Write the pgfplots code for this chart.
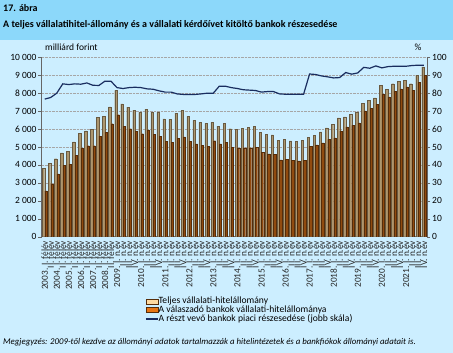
\documentclass[border=0pt]{standalone}
\usepackage{fontspec}
\setmainfont{Carlito}
\usepackage{pgfplots}
\pgfplotsset{compat=1.18}
\usepackage{pgfplotstable}

\definecolor{bandblue}{RGB}{140,216,250}
\definecolor{bgblue}{RGB}{204,238,255}
\definecolor{lightbar}{RGB}{172,150,110}
\definecolor{lightbarE}{RGB}{105,90,65}
\definecolor{darkbar}{RGB}{145,75,15}
\definecolor{darkbarE}{RGB}{85,45,10}
\definecolor{legpeach}{RGB}{255,218,160}
\definecolor{legorange}{RGB}{232,118,20}
\definecolor{navy}{RGB}{25,45,95}

\pgfplotstableread{
k light dark share
1 3800 2550 76.7
2 4100 2950 77.6
3 4350 3500 80.0
4 4670 3980 85.2
5 4760 4050 84.8
6 5280 4520 85.2
7 5780 4930 85.0
8 5900 5070 85.7
9 6000 5070 84.4
10 6650 5600 84.3
11 6700 5820 86.7
12 7240 6300 86.7
13 8150 6800 83.1
14 7400 6150 82.6
15 7220 6020 83.1
16 7040 5890 83.3
17 6930 5740 83.1
18 7110 5920 82.4
19 6940 5700 82.2
20 6940 5590 81.3
21 6570 5300 80.6
22 6540 5260 80.6
23 6890 5500 79.6
24 7030 5570 79.3
25 6700 5320 79.3
26 6490 5170 79.3
27 6370 5080 79.6
28 6320 5050 80.0
29 6370 5350 80.0
30 6170 5170 83.9
31 6310 5270 83.9
32 6020 4970 83.1
33 6000 4940 82.6
34 6040 4960 81.9
35 6090 4960 81.7
36 6170 4970 81.5
37 5810 4710 80.6
38 5720 4610 80.9
39 5670 4590 80.9
40 5390 4280 79.6
41 5430 4320 79.4
42 5340 4240 79.4
43 5330 4220 79.4
44 5375 4255 79.4
45 5535 5040 90.7
46 5660 5120 90.4
47 5840 5230 89.6
48 6070 5420 89.1
49 6250 5510 88.5
50 6620 5900 88.7
51 6680 6120 91.5
52 6830 6200 90.6
53 6960 6350 91.3
54 7420 7010 94.4
55 7610 7140 93.9
56 7740 7380 95.2
57 8420 7940 94.1
58 8200 7790 94.8
59 8530 8110 95.0
60 8660 8240 95.0
61 8720 8350 95.0
62 8530 8160 95.4
63 9000 8590 95.6
64 9460 9000 95.6
}\data

\begin{document}
\begin{tikzpicture}
\fill[bgblue] (0,0) rectangle (453pt,353pt);
\fill[bandblue] (0,313pt) rectangle (453pt,353pt);
\node[anchor=west, inner sep=0pt, font=\fontsize{10}{12}\selectfont\bfseries] at (3pt,345pt) {17. ábra};
\node[anchor=west, inner sep=0pt, font=\fontsize{10}{12}\selectfont\bfseries] at (3pt,328pt) {A teljes vállalatihitel-állomány és a vállalati kérdőívet kitöltő bankok részesedése};
\node[anchor=west, inner sep=0pt, font=\fontsize{9.5}{11}\selectfont] at (45pt,306pt) {milliárd forint};
\node[anchor=center, inner sep=0pt, font=\fontsize{9.5}{11}\selectfont] at (418pt,306pt) {\%};
\node[anchor=west, inner sep=0pt, font=\fontsize{8.8}{10}\selectfont\itshape] at (3pt,11pt) {Megjegyzés: 2009-től kezdve az állományi adatok tartalmazzák a hitelintézetek és a bankfiókok állományi adatait is.};

\begin{axis}[
  at={(41.7pt,116.3pt)}, anchor=south west,
  width=385.3pt, height=179.4pt, scale only axis,
  xmin=0.5, xmax=64.5, ymin=0, ymax=10000,
  axis y line*=left, axis x line*=bottom,
  axis line style={gray!80!black, line width=0.6pt},
  xtick={1,...,64},
  xticklabels={2003. I. félév, II. félév, 2004. I. félév, II. félév, 2005. I. félév, II. félév, 2006. I. félév, II. félév, 2007. I. félév, II. félév, 2008. I. félév, II. félév,
  2009. I. n.év, II. n.év, III. n.év, IV. n.év,
  2010. I. n.év, II. n.év, III. n.év, IV. n.év,
  2011. I. n.év, II. n.év, III. n.év, IV. n.év,
  2012. I. n.év, II. n.év, III. n.év, IV. n.év,
  2013. I. n.év, II. n.év, III. n.év, IV. n.év,
  2014. I. n.év, II. n.év, III. n.év, IV. n.év,
  2015. I. n.év, II. n.év, III. n.év, IV. n.év,
  2016. I. n.év, II. n.év, III. n.év, IV. n.év,
  2017. I. n.év, II. n.év, III. n.év, IV. n.év,
  2018. I. n.év, II. n.év, III. n.év, IV. n.év,
  2019. I. n.év, II. n.év, III. n.év, IV. n.év,
  2020. I. n.év, II. n.év, III. n.év, IV. n.év,
  2021. I. n.év, II. n.év, III. n.év, IV. n.év},
  x tick label style={rotate=90, anchor=east, font=\fontsize{9.3}{9}\selectfont, inner sep=0.5pt, text=black!85},
  major x tick style={draw=none},
  ytick={0,1000,...,10000},
  scaled y ticks=false,
  ymajorgrids, grid style={densely dotted, gray!70},
  y tick label style={font=\fontsize{9.5}{11}\selectfont, inner sep=1.5pt},
  /pgf/number format/.cd, fixed, 1000 sep={\ }, assume math mode=true, /pgfplots/.cd,
  tick align=outside, major tick length=3.5pt,
  y tick style={gray!80!black},
  legend style={at={(0.268,-0.335)}, anchor=north west, draw=none, fill=none,
    font=\fontsize{9.6}{10}\selectfont, cells={anchor=west}, row sep=0pt, inner sep=0pt,
    nodes={inner sep=0.3pt}},
]
\addlegendimage{legend image code/.code={\draw[fill=legpeach,draw=darkbarE] (0pt,-2.5pt) rectangle (12pt,2.5pt);}}
\addlegendentry{Teljes vállalati-hitelállomány}
\addlegendimage{legend image code/.code={\draw[fill=legorange,draw=darkbarE] (0pt,-2.5pt) rectangle (12pt,2.5pt);}}
\addlegendentry{A válaszadó bankok vállalati-hitelállománya}
\addlegendimage{legend image code/.code={\draw[navy,line width=1.2pt] (0pt,0pt) -- (12pt,0pt);}}
\addlegendentry{A részt vevő bankok piaci részesedése (jobb skála)}
\addplot[ybar, bar width=2.3pt, bar shift=-1.15pt, fill=lightbar, draw=lightbarE, line width=0.3pt, forget plot] table[x=k,y=light]{\data};
\addplot[ybar, bar width=2.3pt, bar shift=1.15pt, fill=darkbar, draw=darkbarE, line width=0.3pt, forget plot] table[x=k,y=dark]{\data};
\end{axis}

\begin{axis}[
  at={(41.7pt,116.3pt)}, anchor=south west,
  width=385.3pt, height=179.4pt, scale only axis,
  xmin=0.5, xmax=64.5, ymin=0, ymax=100,
  axis y line*=right, axis x line=none,
  axis line style={gray!80!black, line width=0.6pt},
  ytick={0,10,...,100},
  y tick label style={font=\fontsize{9.5}{11}\selectfont, inner sep=1.5pt},
  /pgf/number format/assume math mode=true,
  tick align=outside, major tick length=3.5pt,
  y tick style={gray!80!black},
]
\addplot[navy, line width=1.2pt, mark=none] table[x=k,y=share]{\data};
\end{axis}
\pgfresetboundingbox
\path[use as bounding box] (0,0) rectangle (453pt,353pt);
\end{tikzpicture}
\end{document}
